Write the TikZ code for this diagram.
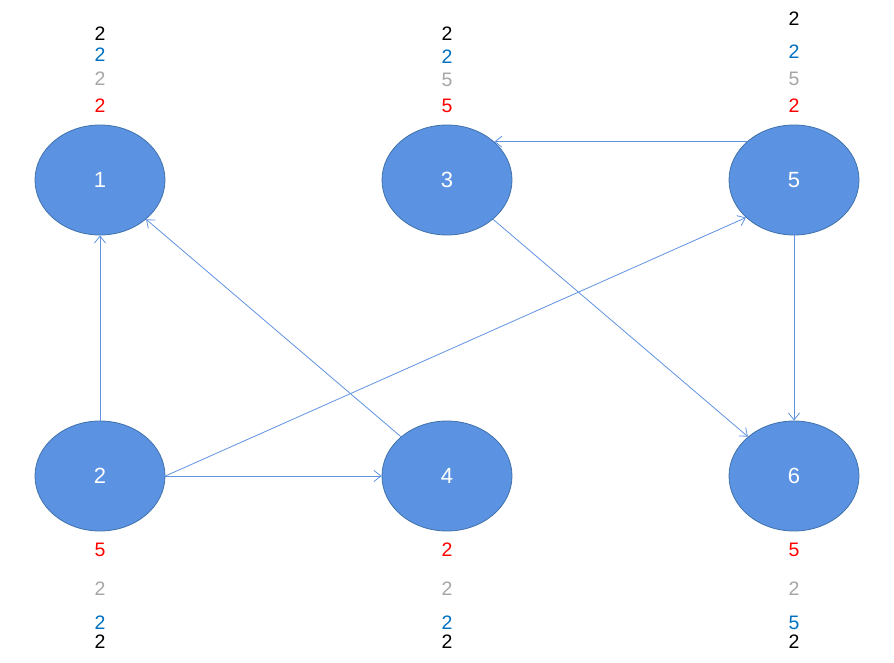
\documentclass[tikz,border=0pt]{standalone}
\usepackage{fontspec}
\setmainfont{Liberation Sans}
\usetikzlibrary{arrows.meta,shapes.geometric}
\definecolor{nodefill}{RGB}{91,147,226}
\definecolor{nodeline}{RGB}{65,113,170}
\definecolor{edgecol}{RGB}{96,146,226}
\definecolor{lblue}{RGB}{0,112,192}
\definecolor{lgray}{RGB}{166,166,166}
\definecolor{lred}{RGB}{255,0,0}
\begin{document}
\begin{tikzpicture}[x=1pt,y=-1pt,
  vert/.style={ellipse,draw=nodeline,fill=nodefill,line width=0.8pt,minimum width=130pt,minimum height=110pt,inner sep=0pt,text=white,font=\fontsize{22}{22}\selectfont},
  lbl/.style={inner sep=0pt,text height=14pt,text depth=0pt,font=\fontsize{19.5}{19.5}\selectfont},
  edge/.style={draw=edgecol,line width=0.8pt,-{Straight Barb[length=7pt,width=11pt]}}]
\useasboundingbox (0,0) rectangle (894,663);
\node[vert] (n1) at (100,180) {1};
\node[vert] (n3) at (447,180) {3};
\node[vert] (n5) at (794,180) {5};
\node[vert] (n2) at (100,476) {2};
\node[vert] (n4) at (447,476) {4};
\node[vert] (n6) at (794,476) {6};
% top labels
\node[lbl] (a1) at (100,34) {2};
\node[lbl,text=lblue] (a2) at (100,55) {2};
\node[lbl,text=lgray] (a3) at (100,79) {2};
\node[lbl,text=lred] (a4) at (100,106) {2};
\node[lbl] (b1) at (447,34) {2};
\node[lbl,text=lblue] (b2) at (447,57) {2};
\node[lbl,text=lgray] (b3) at (447,80) {5};
\node[lbl,text=lred] (b4) at (447,106) {5};
\node[lbl] (c1) at (794,19) {2};
\node[lbl,text=lblue] (c2) at (794,52) {2};
\node[lbl,text=lgray] (c3) at (794,79) {5};
\node[lbl,text=lred] (c4) at (794,106) {2};
% bottom labels
\node[lbl,text=lred] (d1) at (100,549) {5};
\node[lbl,text=lgray] (d2) at (100,588) {2};
\node[lbl,text=lblue] (d3) at (100,622) {2};
\node[lbl] (d4) at (100,641) {2};
\node[lbl,text=lred] (e1) at (447,549) {2};
\node[lbl,text=lgray] (e2) at (447,588) {2};
\node[lbl,text=lblue] (e3) at (447,622) {2};
\node[lbl] (e4) at (447,641) {2};
\node[lbl,text=lred] (f1) at (794,549) {5};
\node[lbl,text=lgray] (f2) at (794,588) {2};
\node[lbl,text=lblue] (f3) at (794,622) {5};
\node[lbl] (f4) at (794,641) {2};
% edges
\draw[edge] (n2) -- (n1);
\draw[edge] (n4) -- (n1);
\draw[edge] (n2) -- (n4);
\draw[edge] (n2.east) -- (n5.218);
\draw[edge] (n5.141) -- (n3.39);
\draw[edge] (n3) -- (n6);
\draw[edge] (n5) -- (n6);
\end{tikzpicture}
\end{document}
